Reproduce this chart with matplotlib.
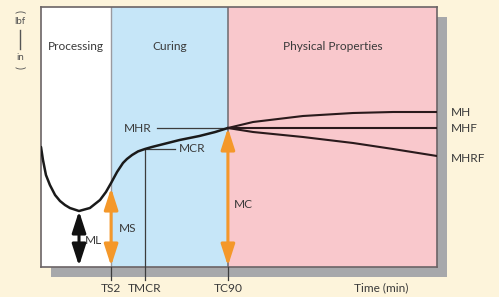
import matplotlib
matplotlib.use("Agg")
import matplotlib.pyplot as plt
from matplotlib.patches import Rectangle, FancyArrowPatch

plt.rcParams['font.family'] = ['Lato', 'DejaVu Sans']

# ---- data (time in min, torque in lbf-in, arbitrary units) ----
regions = ["Processing", "Curing", "Physical Properties"]
region_bounds = [0.0, 3.54, 9.44, 20.0]
region_colors = ["#ffffff", "#c6e6f8", "#f9c8cc"]

cure_time = [0.0, 0.10, 0.25, 0.45, 0.71, 0.96, 1.21, 1.46, 1.92, 2.47, 2.98, 3.28,
             3.54, 3.84, 4.14, 4.34, 4.60, 4.90, 5.25, 5.60, 6.0, 6.6, 7.0, 8.0, 8.8, 9.44]
cure_torque = [6.0, 5.35, 4.6, 4.1, 3.6, 3.3, 3.1, 2.95, 2.8, 2.95, 3.35, 3.75,
               4.2, 4.75, 5.2, 5.4, 5.6, 5.78, 5.9, 6.0, 6.1, 6.25, 6.35, 6.55, 6.75, 6.95]

branch_time = [9.44, 10.71, 13.23, 15.76, 17.78, 20.0]
mh_torque = [6.95, 7.25, 7.55, 7.7, 7.75, 7.75]
mhf_torque = [6.95, 6.95, 6.95, 6.95, 6.95, 6.95]
mhrf_torque = [6.95, 6.75, 6.5, 6.2, 5.9, 5.55]
branch_labels = ["MH", "MHF", "MHRF"]

ML = 2.8
t_ML = 1.92
TS2 = 3.54
MS_val = 3.95
TMCR = 5.25
MCR = 5.9
TC90 = 9.44
MHR = 6.95
tick_times = [TS2, TMCR, TC90]
tick_labels = ["TS2", "TMCR", "TC90"]

W, H = 499, 297
fig = plt.figure(figsize=(W / 100, H / 100), dpi=100)
fig.patch.set_facecolor("#fdf4db")

L, R, T, B = 41, 437, 7, 267
ax = fig.add_axes([L / W, (H - B) / H, (R - L) / W, (B - T) / H])
# shadow
fig.patches.append(Rectangle(((L + 10) / W, (H - B - 10) / H), (R - L) / W, (B - T) / H,
                             transform=fig.transFigure, facecolor="#a7a8ab",
                             edgecolor="none", zorder=0))
ax.set_zorder(1)
ax.set_xlim(0, 20)
ax.set_ylim(0, 13)
ax.set_xticks([])
ax.set_yticks([])
for s in ax.spines.values():
    s.set_color("#6b6466")
    s.set_linewidth(1.2)

txt = "#3a3a3a"
fs = 8.6
for i, name in enumerate(regions):
    ax.axvspan(region_bounds[i], region_bounds[i + 1], color=region_colors[i], zorder=0, lw=0)
    ax.text((region_bounds[i] + region_bounds[i + 1]) / 2, 11.0, name,
            ha="center", va="center", fontsize=fs, color=txt)
ax.axvline(region_bounds[1], color="#9a9aa0", lw=1.0, zorder=1)
ax.axvline(region_bounds[2], color="#6e6a6e", lw=1.1, zorder=1)

# curve
ax.plot(cure_time, cure_torque, color="#1a1a1a", lw=1.8, zorder=5, solid_capstyle="round")
ax.plot(branch_time, mh_torque, color="#2a1a1c", lw=1.5, zorder=5)
ax.plot(branch_time, mhf_torque, color="#2a1a1c", lw=1.5, zorder=5)
ax.plot(branch_time, mhrf_torque, color="#2a1a1c", lw=1.5, zorder=5)
for lab, ys in zip(branch_labels, [mh_torque, mhf_torque, mhrf_torque]):
    ax.text(20.7, ys[-1] - (0.15 if lab == "MHRF" else 0), lab, ha="left", va="center",
            fontsize=fs, color=txt, clip_on=False)

# reference lines
lc = "#3c3c3c"
ax.plot([5.86, TC90], [MHR, MHR], color=lc, lw=0.9, zorder=4)
ax.text(5.6, MHR, "MHR", ha="right", va="center", fontsize=fs, color=txt)
ax.plot([TMCR, 6.77], [MCR, MCR], color=lc, lw=0.9, zorder=4)
ax.text(6.95, MCR, "MCR", ha="left", va="center", fontsize=fs, color=txt)
ax.plot([TMCR, TMCR], [MCR, -0.65], color=lc, lw=0.9, zorder=4, clip_on=False)
ax.plot([TS2, TS2], [0, -0.65], color=lc, lw=0.9, zorder=4, clip_on=False)
ax.plot([TC90, TC90], [0, -0.65], color=lc, lw=0.9, zorder=4, clip_on=False)
for t, lab in zip(tick_times, tick_labels):
    ax.text(t, -1.05, lab, ha="center", va="center", fontsize=fs, color=txt, clip_on=False)
ax.text(17.2, -1.05, "Time (min)", ha="center", va="center", fontsize=fs, color=txt, clip_on=False)

# arrows
def darrow(x, y0, y1, color):
    a = FancyArrowPatch((x, y0), (x, y1), arrowstyle="<|-|>,head_length=1.3,head_width=0.42",
                        mutation_scale=10, color=color, lw=2.2, shrinkA=0, shrinkB=0,
                        zorder=6, clip_on=False)
    ax.add_patch(a)

darrow(t_ML, 0.05, ML, "#111111")
darrow(TS2, 0.05, MS_val, "#f4982a")
darrow(TC90, 0.05, MHR, "#f4982a")
ax.text(t_ML + 0.28, 1.3, "ML", ha="left", va="center", fontsize=fs, color=txt, zorder=7)
ax.text(TS2 + 0.4, 1.95, "MS", ha="left", va="center", fontsize=fs, color=txt)
ax.text(TC90 + 0.3, 3.1, "MC", ha="left", va="center", fontsize=fs, color=txt)

# y-unit label
uc = "#555555"
fig.text(20 / W, 1 - 21 / H, "lbf", ha="center", va="center", fontsize=7, color=uc)
fig.text(20 / W, 1 - 57 / H, "in", ha="center", va="center", fontsize=7, color=uc)
fig.add_artist(plt.Line2D([20 / W, 20 / W], [1 - 30 / H, 1 - 49 / H], color=uc, lw=1.0,
                          transform=fig.transFigure))
fig.text(20 / W, 1 - 11 / H, "(", ha="center", va="center", fontsize=8, color=uc, rotation=-90)
fig.text(20 / W, 1 - 67 / H, ")", ha="center", va="center", fontsize=8, color=uc, rotation=-90)

fig.savefig("out.png", dpi=100, facecolor=fig.get_facecolor())
